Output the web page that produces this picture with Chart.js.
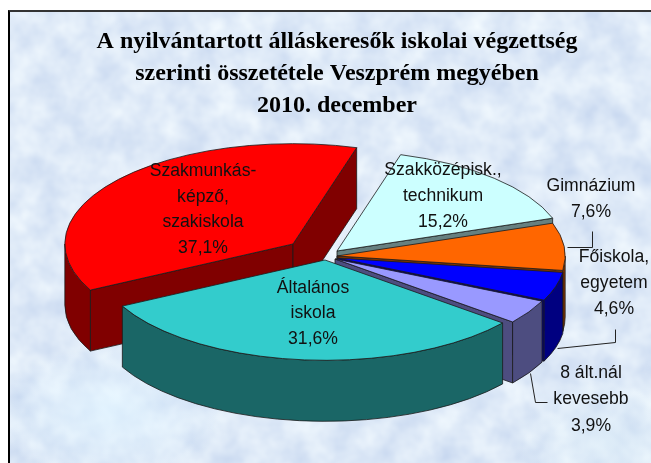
<!DOCTYPE html>
<html lang="hu">
<head>
<meta charset="utf-8">
<style>
html,body{margin:0;padding:0;background:#fff;width:651px;height:463px;overflow:hidden}
#frame{position:absolute;left:8px;top:10px;width:643px;height:453px;box-sizing:border-box;
border-left:2px solid #000;border-top:2px solid #333;
background:
radial-gradient(ellipse 120px 70px at 100px 400px,rgba(222,242,255,.7),transparent),
radial-gradient(ellipse 100px 70px at 600px 430px,rgba(220,238,248,.5),transparent),
url("data:image/svg+xml,%3Csvg xmlns='http://www.w3.org/2000/svg' width='643' height='453'%3E%3Cfilter id='n' color-interpolation-filters='sRGB' x='0' y='0' width='100%25' height='100%25'%3E%3CfeTurbulence type='fractalNoise' baseFrequency='0.035' numOctaves='3' seed='7'/%3E%3CfeColorMatrix values='0.2 0 0 0 0.77 0.16 0 0 0 0.835 0.07 0 0 0 0.935 0 0 0 0 1'/%3E%3C/filter%3E%3Crect width='643' height='453' filter='url(%23n)'/%3E%3C/svg%3E"),
#dde9f7;}
#c{position:absolute;left:0;top:0}
</style>
</head>
<body>
<div id="frame"></div>
<canvas id="c" width="651" height="463"></canvas>
<script src="https://cdn.jsdelivr.net/npm/chart.js@4"></script>
<script>
const categories = ["Szakközépisk., technikum","Gimnázium","Főiskola, egyetem","8 ált.nál kevesebb","Általános iskola","Szakmunkásképző, szakiskola"];
const shares = [15.2,7.6,4.6,3.9,31.6,37.1];
const titleLines = ["A nyilvántartott álláskeresők iskolai végzettség","szerinti összetétele Veszprém megyében","2010. december"];
const labelLines = [["Szakközépisk.,","technikum"],["Gimnázium"],["Főiskola,","egyetem"],["8 ált.nál","kevesebb"],["Általános","iskola"],["Szakmunkás-","képző,","szakiskola"]];
const topColors = ["#CCFFFF","#FF6600","#0000FF","#9999FF","#33CCCC","#FF0000"];
const wallColors = ["#668080","#803300","#000080","#4D4D80","#1A6666","#800000"];

// drawing style
const drawOrder = [5,0,1,2,3,4];
const sliceShift = [[0,-6],[0,-1],[0,1],[-2,2],[-12,3],[-44,-13]];
const scaleX = 1.69, scaleY = 0.743, depth = 61;
const labelPos = [[443,170],[591,186],[614,257],[591,373],[313,288],[203,171]];
const lineGap = [26,26,26,26.5,25.5,25.7];
const leaders = [[[567,247],[592,247],[592,231]],[[557,348],[615,342],[615,329]],[[530,373],[535,402],[547,402]]];
const TAU = Math.PI*2;

function wallPath(ctx,pts){ctx.beginPath();pts.forEach((p,i)=>i?ctx.lineTo(p[0],p[1]):ctx.moveTo(p[0],p[1]));ctx.closePath();}

const pie3d = {
  id:'pie3d',
  beforeDatasetsDraw(chart){
    const ctx = chart.ctx, arcs = chart.getDatasetMeta(0).data;
    ctx.save();
    ctx.lineWidth = 0.8; ctx.strokeStyle = '#1a1a1a'; ctx.lineJoin='round';
    drawOrder.forEach(i=>{
      const a = arcs[i].getProps(['x','y','startAngle','endAngle','outerRadius']);
      const cx = a.x+sliceShift[i][0], cy = a.y+sliceShift[i][1];
      const rx = a.outerRadius*scaleX, ry = a.outerRadius*scaleY;
      const s = a.startAngle, e = a.endAngle;
      const rim = t=>[cx+rx*Math.cos(t),cy+ry*Math.sin(t)];
      ctx.fillStyle = wallColors[i];
      const cut = t=>{const p=rim(t);wallPath(ctx,[[cx,cy],p,[p[0],p[1]+depth],[cx,cy+depth]]);ctx.fill();ctx.stroke();};
      if(Math.cos(s)<0) cut(s);
      if(Math.cos(e)>0) cut(e);
      // outer wall: only the part of the rim that faces the viewer
      for(let k=-1;k<=1;k++){
        const lo=Math.max(s,k*TAU), hi=Math.min(e,k*TAU+Math.PI);
        if(hi>lo){
          ctx.beginPath();
          ctx.ellipse(cx,cy,rx,ry,0,lo,hi);
          ctx.ellipse(cx,cy+depth,rx,ry,0,hi,lo,true);
          ctx.closePath();ctx.fill();ctx.stroke();
        }
      }
      ctx.fillStyle = topColors[i];
      ctx.beginPath();ctx.moveTo(cx,cy);ctx.ellipse(cx,cy,rx,ry,0,s,e);ctx.closePath();ctx.fill();ctx.stroke();
    });
    ctx.restore();
    return false;
  },
  afterDraw(chart){
    const ctx = chart.ctx;
    ctx.save();
    ctx.strokeStyle='#222';ctx.lineWidth=1;
    leaders.forEach(l=>{ctx.beginPath();l.forEach((p,i)=>i?ctx.lineTo(p[0]+.5,p[1]+.5):ctx.moveTo(p[0]+.5,p[1]+.5));ctx.stroke();});
    ctx.fillStyle='#111';ctx.font='17.6px "Liberation Sans"';ctx.textAlign='center';ctx.textBaseline='middle';
    categories.forEach((c,i)=>{
      const lines=[...labelLines[i],shares[i].toFixed(1).replace('.',',')+'%'];
      lines.forEach((t,j)=>ctx.fillText(t,labelPos[i][0],labelPos[i][1]+j*lineGap[i]));
    });
    ctx.restore();
  }
};

new Chart(document.getElementById('c'),{
  type:'pie',
  data:{labels:categories,datasets:[{data:shares,backgroundColor:topColors,borderWidth:0,hoverOffset:0,rotation:16.2}]},
  options:{
    responsive:false,animation:false,
    layout:{padding:{left:23,right:0,top:0,bottom:71}},
    plugins:{
      legend:{display:false},tooltip:{enabled:false},
      title:{display:true,text:titleLines,color:'#000',font:{family:'"Liberation Serif"',size:24,weight:'bold',lineHeight:1.333},padding:{top:26,bottom:0}}
    }
  },
  plugins:[pie3d]
});
</script>
</body>
</html>
